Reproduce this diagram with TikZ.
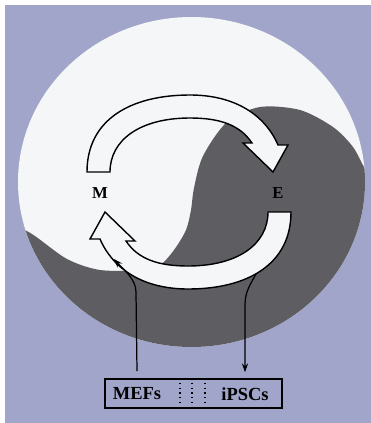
\documentclass[tikz,border=0pt]{standalone}
\usepackage{fontspec}
\setmainfont{Liberation Serif}
\usetikzlibrary{arrows.meta,positioning,calc}
\definecolor{YinLavender}{RGB}{161,165,202}
\definecolor{YinWhite}{RGB}{245,246,248}
\definecolor{YinDark}{RGB}{94,94,98}

\tikzset{
  cyclearrow/.style={draw=black,line width=.8pt,fill=YinWhite},
  cellstate/.style={font=\fontsize{9.5}{10}\selectfont\bfseries,inner sep=1pt},
  celltype/.style={font=\fontsize{10.5}{12}\selectfont\bfseries,inner sep=1pt},
  linkarrow/.style={-{Stealth[length=5pt,width=3.5pt]},line width=.7pt},
}

\begin{document}
\begin{tikzpicture}[x=.02cm,y=-.02cm]
  \useasboundingbox (0,0) rectangle (371,423);
  \fill[YinLavender] (5,5) rectangle (371,423);
  % yin-yang disc
  \begin{scope}
    \clip (191.5,182) ellipse [x radius=173.5,y radius=165];
    \fill[YinWhite] (0,0) rectangle (371,423);
    \fill[YinDark] plot[smooth] coordinates
      {(8,222)(32,234)(67,259)(100,270)(140,270)(160,265)(174,250)(186,230)
       (191,210)(194,188)(203,156)(227,122)(260,107)(300,110)(333,127)(353,147)
       (366,170)(380,180)}
      -- (380,360) -- (0,360) -- cycle;
  \end{scope}
  % the two block arrows, one is the other turned round
  \foreach \r in {0,180}
    \draw[cyclearrow,rotate around={\r:(189,192)}]
      (87,172) .. controls (87,120) and (130,95) .. (190,95)
      .. controls (235,95) and (265,115) .. (278,145)
      -- (288,145) -- (273,172) -- (243,143) -- (252,143)
      .. controls (240,125) and (220,118) .. (190,118)
      .. controls (140,118) and (110,140) .. (110,172) -- cycle;
  \node[cellstate] (M) at (100,193) {M};
  \node[cellstate] (E) at (278,193) {E};
  % cell box
  \node[draw,line width=.9pt,minimum width=3.54cm,minimum height=.58cm] (box) at (193.5,393.5) {};
  \node[celltype] (mefs) at (137,394) {MEFs};
  \node[celltype] (ipscs) at (245,394) {iPSCs};
  \foreach \x in {180,192,205}
    \draw[dotted,line width=.7pt] (\x,0 |- box.north) -- (\x,0 |- box.south);
  \coordinate (intoM) at (114,259);
  \coordinate (fromE) at (256,274);
  \coordinate (bendM) at (136,292);
  \coordinate (bendE) at (245,305);
  \draw[linkarrow] ([yshift=.14cm]box.north -| mefs) -- (bendM)
    .. controls (136,279) and (123,269) .. (intoM);
  \draw[linkarrow] (fromE) .. controls (250,285) and (245,292) .. (bendE)
    -- ([yshift=.12cm]box.north -| ipscs);
\end{tikzpicture}
\end{document}
